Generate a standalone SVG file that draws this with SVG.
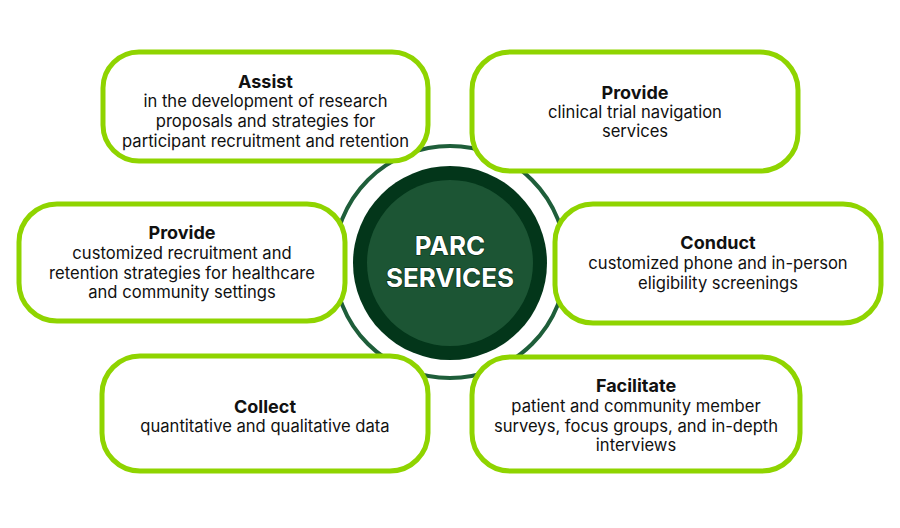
<svg xmlns="http://www.w3.org/2000/svg" width="900" height="528" viewBox="0 0 900 528">
<style>
.box{fill:#fff;stroke:#8fd400;stroke-width:5}
.t{font-family:Inter,"Liberation Sans",sans-serif;font-weight:700;font-size:18px;fill:#111;text-anchor:middle}
.b{font-family:Inter,"Liberation Sans",sans-serif;font-size:16.6px;fill:#111;text-anchor:middle}
.c{font-family:Inter,"Liberation Sans",sans-serif;font-weight:700;font-size:26px;fill:#fff;stroke:#022a12;stroke-width:1.2;paint-order:stroke;text-anchor:middle}
</style>
<rect width="900" height="528" fill="#fff"/>
<g id="connectors">
<circle cx="450" cy="262" r="116" fill="none" stroke="#1e5e3a" stroke-width="4"/>
</g>
<g id="center">
<circle cx="450" cy="263" r="97" fill="#03361a"/>
<circle cx="450" cy="263" r="83" fill="#1c5534"/>
<text class="c" x="450" y="255">PARC</text>
<text class="c" x="450" y="287">SERVICES</text>
</g>
<g id="assist">
<rect class="box" x="103" y="52" width="325" height="109" rx="36"/>
<text class="t" x="265.5" y="88">Assist</text>
<text class="b" x="265.5" y="107">in the development of research</text>
<text class="b" x="265.5" y="127">proposals and strategies for</text>
<text class="b" x="265.5" y="147">participant recruitment and retention</text>
</g>
<g id="provide-navigation">
<rect class="box" x="472" y="52" width="326" height="119" rx="38"/>
<text class="t" x="635" y="98.5">Provide</text>
<text class="b" x="635" y="118">clinical trial navigation</text>
<text class="b" x="635" y="137">services</text>
</g>
<g id="provide-strategies">
<rect class="box" x="19" y="204" width="326" height="117" rx="38"/>
<text class="t" x="182" y="239">Provide</text>
<text class="b" x="182" y="258.5">customized recruitment and</text>
<text class="b" x="182" y="278.5">retention strategies for healthcare</text>
<text class="b" x="182" y="298">and community settings</text>
</g>
<g id="conduct">
<rect class="box" x="555" y="204" width="326" height="119" rx="38"/>
<text class="t" x="718" y="249">Conduct</text>
<text class="b" x="718" y="268.5">customized phone and in-person</text>
<text class="b" x="718" y="288.5">eligibility screenings</text>
</g>
<g id="collect">
<rect class="box" x="102" y="356" width="326" height="115" rx="38"/>
<text class="t" x="265" y="412.5">Collect</text>
<text class="b" x="265" y="432">quantitative and qualitative data</text>
</g>
<g id="facilitate">
<rect class="box" x="472" y="357" width="328" height="114" rx="38"/>
<text class="t" x="636" y="392">Facilitate</text>
<text class="b" x="636" y="411.5">patient and community member</text>
<text class="b" x="636" y="431.5">surveys, focus groups, and in-depth</text>
<text class="b" x="636" y="451">interviews</text>
</g>
</svg>
